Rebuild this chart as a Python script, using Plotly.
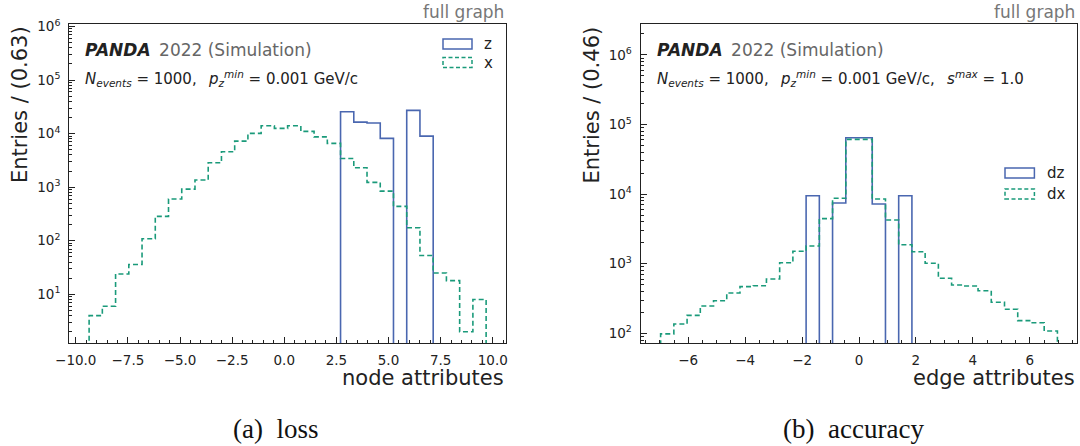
import plotly.graph_objects as go

# ---------------- data ----------------
# left panel: node attributes, 30 bins
node_bin_start = -9.36
node_bin_width = 0.6347
node_z_counts = [0, 0, 0, 0, 0, 0, 0, 0, 0, 0, 0, 0, 0, 0, 0, 0, 0, 0, 0,
                 25500, 16400, 15800, 8130, 0, 27100, 8970, 0, 0, 0, 0]
node_x_counts = [4, 6, 24, 36, 109, 285, 600, 920, 1360, 2850, 4570, 7240, 10100, 14000, 12500,
                 14000, 11000, 8700, 6560, 3440, 2300, 1230, 845, 438, 175, 53, 25, 18, 2, 8]

# right panel: edge attributes, 30 bins
edge_bin_start = -6.97
edge_bin_width = 0.4647
edge_dz_counts = [0, 0, 0, 0, 0, 0, 0, 0, 0, 0, 0, 9480, 0, 7450, 64600,
                  64600, 7210, 0, 9480, 0, 0, 0, 0, 0, 0, 0, 0, 0, 0, 0]
edge_dx_counts = [98, 136, 181, 247, 294, 379, 468, 483, 603, 1033, 1506, 1795, 4440, 8710, 61200,
                  61200, 8500, 4250, 1875, 1486, 1014, 617, 494, 478, 409, 279, 221, 152, 142, 108]

node_series = ["z", "x"]
edge_series = ["dz", "dx"]
x_titles = ["node attributes", "edge attributes"]
y_titles = ["Entries / (0.63)", "Entries / (0.46)"]
captions = ["(a)\u2002loss", "(b)\u2002accuracy"]
node_y_exponents = [1, 2, 3, 4, 5, 6]
edge_y_exponents = [2, 3, 4, 5, 6]

BLUE = "#4a67b0"
GREEN = "#1a9a7a"
W, H = 1080, 446


def step_xy(start, width, counts, floor=1e-3):
    n = len(counts)
    edges = [start + width * i for i in range(n + 1)]
    vals = [c if c > 0 else floor for c in counts]
    xs = [edges[0]] + edges[:-1] + [edges[-1], edges[-1]]
    ys = [floor] + vals + [vals[-1], floor]
    return xs, ys


fig = go.Figure()

for counts, color, dash in [
    (node_z_counts, BLUE, "solid"),
    (node_x_counts, GREEN, "5px,3px"),
]:
    xs, ys = step_xy(node_bin_start, node_bin_width, counts)
    fig.add_trace(go.Scatter(x=xs, y=ys, mode="lines", line=dict(color=color, width=1.6, dash=dash, shape="hv"),
                             xaxis="x", yaxis="y", showlegend=False, hoverinfo="skip"))

for counts, color, dash in [
    (edge_dz_counts, BLUE, "solid"),
    (edge_dx_counts, GREEN, "5px,3px"),
]:
    xs, ys = step_xy(edge_bin_start, edge_bin_width, counts)
    fig.add_trace(go.Scatter(x=xs, y=ys, mode="lines", line=dict(color=color, width=1.6, dash=dash, shape="hv"),
                             xaxis="x2", yaxis="y2", showlegend=False, hoverinfo="skip"))

# ---------------- layout ----------------
L1, R1 = 69.3, 505.7
L2, R2 = 640.7, 1077.3
TOP, BOT = 24.3, 343.3


def px(v):
    return v / W


def py(v):
    return 1 - v / H


tickfont = dict(family="DejaVu Sans", size=13.5, color="#222")
common_x = dict(showline=True, linecolor="#222", linewidth=1.3, mirror=True, ticks="inside", ticklen=6,
                tickcolor="#222", tickwidth=1, showgrid=False, zeroline=False, tickfont=tickfont,
                ticklabelstandoff=4)
common_y = dict(type="log", showline=True, linecolor="#222", linewidth=1.3, mirror=True, ticks="inside",
                ticklen=6, tickcolor="#222", tickwidth=1, showgrid=False, zeroline=False, tickfont=tickfont,
                ticklabelstandoff=5,
                minor=dict(ticks="inside", ticklen=3, tickcolor="#222", dtick="D1", showgrid=False))


def pow_ticks(exps):
    return dict(tickmode="array", tickvals=[10 ** e for e in exps],
                ticktext=["10<sup>%d</sup>" % e for e in exps])


fig.update_layout(
    width=W, height=H, autosize=False,
    margin=dict(l=0, r=0, t=0, b=0),
    paper_bgcolor="white", plot_bgcolor="white",
    template="none",
    font=dict(family="DejaVu Sans", color="#222"),
    showlegend=False,
    xaxis=dict(domain=[px(L1), px(R1)], range=[-10.31, 10.62], dtick=2.5, tick0=0, tickformat=".1f",
               minor=dict(ticks="inside", ticklen=3, tickcolor="#222", dtick=0.5, showgrid=False),
               anchor="y", **common_x),
    yaxis=dict(domain=[py(BOT), py(TOP)], range=[0.086, 6.04], anchor="x", **pow_ticks(node_y_exponents),
               **common_y),
    xaxis2=dict(domain=[px(L2), px(R2)], range=[-7.67, 7.67], dtick=2, tick0=0,
                minor=dict(ticks="inside", ticklen=3, tickcolor="#222", dtick=0.5, showgrid=False),
                anchor="y2", **common_x),
    yaxis2=dict(domain=[py(BOT), py(TOP)], range=[1.856, 6.44], anchor="x2", **pow_ticks(edge_y_exponents),
                **common_y),
)

ann = []
shapes = []
for i, (L, R) in enumerate([(L1, R1), (L2, R2)]):
    ann.append(dict(text="full graph", x=px(R), y=py(11.5), xref="paper", yref="paper", xanchor="right",
                    yanchor="middle", showarrow=False, font=dict(size=17, color="#777")))
    ann.append(dict(text="<b><i>PANDA</i></b>\u2002<span style='color:#666'>2022 (Simulation)</span>",
                    x=px(L + 14), y=py(50), xref="paper", yref="paper", xanchor="left", yanchor="middle",
                    showarrow=False, font=dict(size=17, color="#222")))
    line2 = ("<i>N</i><sub><i>events</i></sub> = 1000,\u2002 <i>p</i><sub><i>z</i></sub><sup><i>min</i></sup>"
             " = 0.001 GeV/c")
    if i == 1:
        line2 += ",\u2002 <i>s</i><sup><i>max</i></sup> = 1.0"
    ann.append(dict(text=line2, x=px(L + 14), y=py(78), xref="paper", yref="paper", xanchor="left",
                    yanchor="middle", showarrow=False, font=dict(size=15, color="#222")))
    ann.append(dict(text=x_titles[i], x=px(R), y=py(378), xref="paper", yref="paper", xanchor="right",
                    yanchor="middle", showarrow=False, font=dict(size=21, color="#222")))
    ann.append(dict(text=y_titles[i], x=px(L - 49), y=py(TOP), xref="paper", yref="paper", xanchor="center",
                    yanchor="top", textangle=-90, showarrow=False, font=dict(size=21, color="#222")))
    ann.append(dict(text=captions[i], x=px([275, 853][i]), y=py(429), xref="paper", yref="paper",
                    xanchor="center", yanchor="middle", showarrow=False,
                    font=dict(family="Liberation Serif", size=27, color="#111")))

legend_specs = [
    (node_series, 443, 472, 482, [44, 62.5]),
    (edge_series, 1005, 1034.4, 1045, [173, 194]),
]
for names, x0, x1, xt, ycs in legend_specs:
    for name, yc, color, dash in zip(names, ycs, [BLUE, GREEN], ["solid", "4px,2.5px"]):
        shapes.append(dict(type="rect", xref="paper", yref="paper", x0=px(x0), x1=px(x1),
                           y0=py(yc + 5), y1=py(yc - 5), line=dict(color=color, width=1.5, dash=dash),
                           fillcolor="rgba(0,0,0,0)"))
        ann.append(dict(text=name, x=px(xt), y=py(yc), xref="paper", yref="paper", xanchor="left",
                        yanchor="middle", showarrow=False, font=dict(size=15, color="#222")))

fig.update_layout(annotations=ann, shapes=shapes)
fig.write_html("out.html", config={"displayModeBar": False},
               post_script="document.body.style.margin='0px';document.body.style.padding='0px';")
